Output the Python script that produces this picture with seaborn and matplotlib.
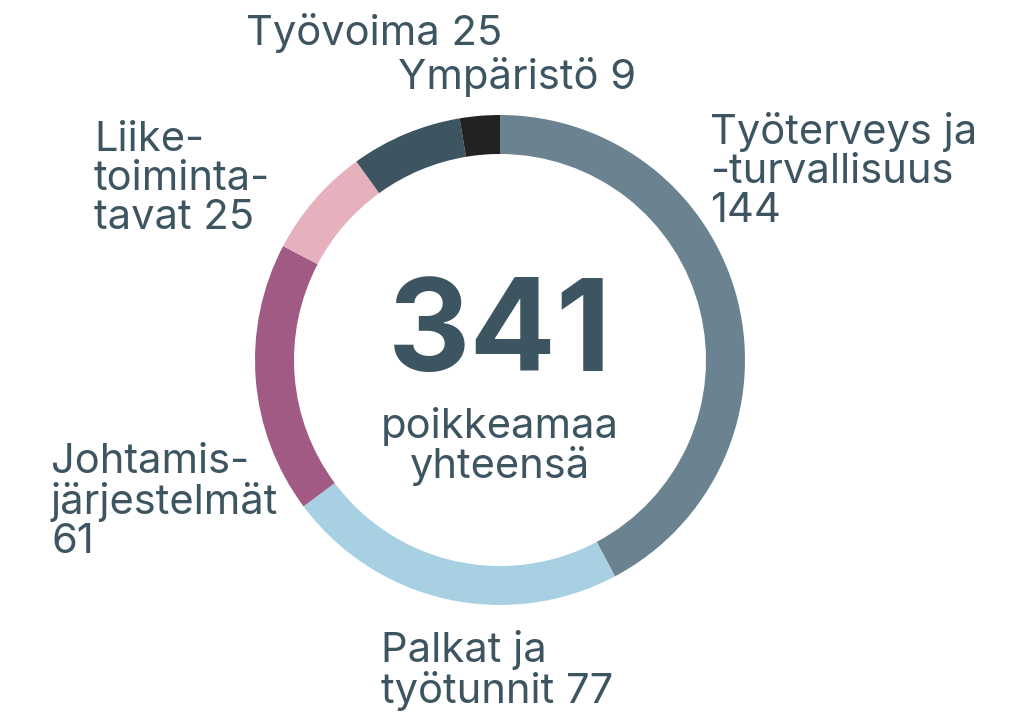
import matplotlib
matplotlib.use("Agg")
import matplotlib.pyplot as plt
import seaborn as sns

# Non-conformities by category
categories = ["Työterveys ja\n-turvallisuus", "Palkat ja\ntyötunnit", "Johtamis-\njärjestelmät",
              "Liike-\ntoiminta-\ntavat", "Työvoima", "Ympäristö"]
values = [144, 77, 61, 25, 25, 9]
colors = ["#6b8390", "#a7d1e3", "#a05a84", "#e6b1bc", "#3d5561", "#222222"]
total_label = "poikkeamaa\nyhteensä"

sns.set_theme(style="white")
plt.rcParams["font.family"] = ["Inter", "DejaVu Sans"]
text_color = "#3d5561"

W, H = 1009, 718
fig = plt.figure(figsize=(W / 100, H / 100), dpi=100)
ax = fig.add_axes([0, 0, 1, 1])

cx, cy, r_out, width = 500, H - 360, 245, 39
ax.pie(values, colors=sns.color_palette(colors), startangle=90, counterclock=False,
       center=(cx, cy), radius=r_out, frame=True,
       wedgeprops=dict(width=width, linewidth=0))
ax.set_xlim(0, W)
ax.set_ylim(0, H)
ax.set_aspect("equal")
ax.axis("off")

fs = 30
# Value goes on the same line for short names, on its own line otherwise
own_line = {"Työterveys ja\n-turvallisuus", "Johtamis-\njärjestelmät"}
lab = [f"{c}\n{v}" if c in own_line else f"{c} {v}" for c, v in zip(categories, values)]

def put(txt, x, y_top):
    ax.text(x, H - y_top, txt, ha="left", va="top", fontsize=fs, color=text_color,
            linespacing=1.03)

put(lab[0], 710, 112)
put(lab[1], 381, 630)
put(lab[2], 51, 443)
put(lab[3], 94, 121)
put(lab[4], 246, 13)
put(lab[5], 398, 57)

ax.text(cx, H - 338, str(sum(values)), ha="center", va="center", fontsize=92,
        fontweight="bold", color=text_color)
ax.text(cx, H - 447, total_label, ha="center", va="center", fontsize=fs,
        color=text_color, linespacing=1.0)

fig.savefig("out.png", dpi=100)
